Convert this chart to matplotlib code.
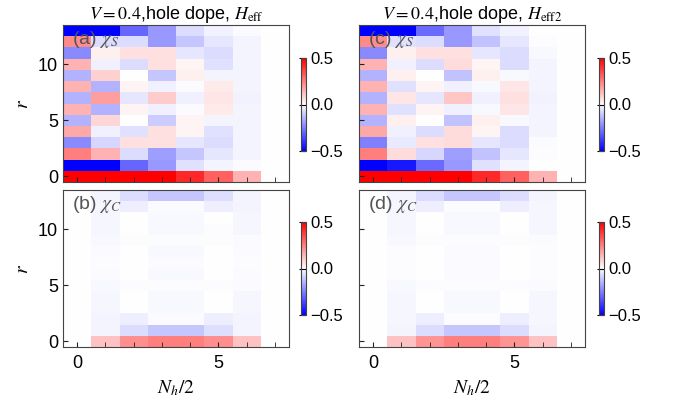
import numpy as np
import matplotlib
matplotlib.use("Agg")
import matplotlib.pyplot as plt
from matplotlib.ticker import MultipleLocator

plt.rcParams['font.family'] = ['Liberation Sans', 'DejaVu Sans']
plt.rcParams['mathtext.fontset'] = 'stix'

# x: N_h/2 = 0..7, rows: r = 0..13
nh_half = [0, 1, 2, 3, 4, 5, 6, 7]
r_vals = list(range(14))

# chi_S, H_eff  (rows r=0..13)
chi_s_eff = [
    [0.55, 0.55, 0.52, 0.50, 0.42, 0.31, 0.15, 0.0],
    [-0.55, -0.55, -0.30, -0.20, -0.06, -0.02, -0.01, 0.0],
    [0.25, 0.15, -0.07, -0.19, -0.11, -0.05, -0.02, 0.0],
    [-0.23, -0.08, 0.06, 0.06, -0.05, -0.07, -0.02, 0.0],
    [0.17, -0.03, -0.06, 0.06, 0.02, -0.06, -0.02, 0.0],
    [-0.15, 0.08, 0.0, -0.10, 0.02, -0.02, -0.02, 0.0],
    [0.15, -0.15, 0.02, -0.03, -0.01, 0.04, -0.02, 0.0],
    [-0.15, 0.19, -0.05, 0.10, -0.03, 0.05, -0.025, 0.0],
    [0.15, -0.15, 0.02, -0.03, -0.01, 0.04, -0.02, 0.0],
    [-0.15, 0.09, 0.0, -0.11, 0.03, -0.02, -0.02, 0.0],
    [0.15, -0.03, -0.07, 0.06, 0.02, -0.06, -0.02, 0.0],
    [-0.23, 0.03, 0.06, 0.06, -0.05, -0.07, -0.02, 0.0],
    [0.23, -0.07, -0.07, -0.20, -0.11, -0.05, -0.02, 0.0],
    [-0.55, -0.55, -0.30, -0.20, -0.07, -0.025, -0.01, 0.0],
]

# chi_S, H_eff2
chi_s_eff2 = [
    [0.55, 0.55, 0.52, 0.50, 0.42, 0.31, 0.15, 0.0],
    [-0.55, -0.45, -0.29, -0.20, -0.06, -0.02, 0.0, 0.0],
    [0.25, 0.07, -0.08, -0.19, -0.12, -0.05, -0.005, 0.0],
    [-0.25, -0.04, 0.06, 0.07, -0.05, -0.07, -0.01, 0.0],
    [0.17, -0.03, -0.07, 0.07, 0.02, -0.07, -0.02, 0.0],
    [-0.15, 0.03, 0.0, -0.12, 0.03, -0.015, -0.02, 0.0],
    [0.15, -0.06, 0.02, -0.03, -0.015, 0.05, -0.02, 0.0],
    [-0.15, 0.05, -0.05, 0.11, -0.03, 0.06, -0.025, 0.0],
    [0.15, -0.06, 0.02, -0.03, -0.015, 0.05, -0.02, 0.0],
    [-0.15, 0.03, 0.0, -0.12, 0.03, -0.015, -0.02, 0.0],
    [0.15, -0.03, -0.07, 0.07, 0.02, -0.07, -0.02, 0.0],
    [-0.23, 0.03, 0.06, 0.06, -0.05, -0.07, -0.015, 0.0],
    [0.23, -0.06, -0.07, -0.20, -0.12, -0.05, -0.005, 0.0],
    [-0.55, -0.55, -0.29, -0.20, -0.06, -0.025, 0.0, 0.0],
]

# chi_C, H_eff
chi_c_eff = [
    [0.0, 0.12, 0.22, 0.25, 0.25, 0.22, 0.12, 0.0],
    [0.0, -0.02, -0.07, -0.11, -0.11, -0.065, -0.02, 0.0],
    [0.0, -0.02, -0.035, -0.01, -0.01, -0.035, -0.02, 0.0],
    [0.0, -0.018, 0.0, -0.014, -0.014, 0.0, -0.018, 0.0],
    [0.0, -0.018, 0.0, -0.014, -0.014, 0.0, -0.018, 0.0],
    [0.0, -0.014, -0.006, -0.004, -0.004, -0.006, -0.01, 0.0],
    [0.0, -0.008, 0.0, -0.012, -0.012, 0.0, -0.008, 0.0],
    [0.0, -0.006, 0.0, -0.008, -0.008, 0.0, -0.006, 0.0],
    [0.0, -0.008, 0.0, -0.012, -0.012, 0.0, -0.008, 0.0],
    [0.0, -0.014, -0.006, -0.004, -0.004, -0.006, -0.01, 0.0],
    [0.0, -0.018, 0.0, -0.014, -0.014, -0.006, -0.018, 0.0],
    [0.0, -0.018, 0.0, -0.014, -0.014, 0.0, -0.018, 0.0],
    [0.0, -0.018, -0.035, -0.01, -0.01, -0.035, -0.02, 0.0],
    [0.0, -0.02, -0.07, -0.11, -0.11, -0.065, -0.02, 0.0],
]

# chi_C, H_eff2
chi_c_eff2 = [
    [0.0, 0.12, 0.21, 0.25, 0.25, 0.21, 0.12, 0.0],
    [0.0, -0.02, -0.07, -0.11, -0.11, -0.07, -0.02, 0.0],
    [0.0, -0.018, -0.035, -0.005, -0.005, -0.035, -0.018, 0.0],
    [0.0, -0.018, 0.0, -0.012, -0.012, 0.0, -0.018, 0.0],
    [0.0, -0.016, 0.0, -0.012, -0.012, 0.0, -0.016, 0.0],
    [0.0, -0.012, -0.006, -0.004, -0.004, -0.006, -0.01, 0.0],
    [0.0, -0.006, 0.0, -0.01, -0.01, 0.0, -0.006, 0.0],
    [0.0, -0.004, 0.0, -0.008, -0.008, 0.0, -0.004, 0.0],
    [0.0, -0.006, 0.0, -0.01, -0.01, 0.0, -0.006, 0.0],
    [0.0, -0.012, -0.006, -0.004, -0.004, -0.006, -0.01, 0.0],
    [0.0, -0.016, 0.0, -0.012, -0.012, 0.0, -0.016, 0.0],
    [0.0, -0.018, 0.0, -0.012, -0.012, 0.0, -0.018, 0.0],
    [0.0, -0.018, -0.035, -0.005, -0.005, -0.035, -0.018, 0.0],
    [0.0, -0.02, -0.07, -0.11, -0.11, -0.07, -0.02, 0.0],
]

titles = [r'$V=0.4$,hole dope, $H_{\rm eff}$', r'$V=0.4$,hole dope, $H_{\rm eff2}$']
panel_labels = [[r'(a) $\chi_S$', r'(b) $\chi_C$'], [r'(c) $\chi_S$', r'(d) $\chi_C$']]
data = [[chi_s_eff, chi_c_eff], [chi_s_eff2, chi_c_eff2]]

fig = plt.figure(figsize=(6.89, 4.03), dpi=100)

W, H = 689.0, 403.0
ax_left = [63, 359]
ax_top = [25, 190]
ax_w, ax_h = 226, 157
cb_left = [301, 599]
cb_top = [58, 222]
cb_w, cb_h = 5, 93

spine_col = '#444444'

for col in range(2):
    for row in range(2):
        l = ax_left[col] / W
        b = 1 - (ax_top[row] + ax_h) / H
        ax = fig.add_axes([l, b, ax_w / W, ax_h / H])
        z = np.array(data[col][row])
        im = ax.pcolormesh(np.array(nh_half), np.array(r_vals), z,
                           cmap='bwr', vmin=-0.5, vmax=0.5, shading='nearest')
        ax.set_xlim(-0.5, 7.5)
        ax.set_ylim(-0.5, 13.5)
        ax.xaxis.set_major_locator(MultipleLocator(5))
        ax.xaxis.set_minor_locator(MultipleLocator(1))
        ax.yaxis.set_major_locator(MultipleLocator(5))
        ax.tick_params(which='both', direction='in', labelsize=13, color='#222222')
        ax.tick_params(which='both', length=3.5)
        ax.tick_params(axis='x', pad=6)
        for s in ax.spines.values():
            s.set_color(spine_col)
        if row == 0:
            ax.set_xticklabels([])
            ax.set_title(titles[col], fontsize=13, pad=3)
        else:
            ax.set_xlabel(r'$N_h/2$', fontsize=14, labelpad=4)
        if col == 0:
            ax.set_ylabel(r'$r$', fontsize=14, labelpad=4)
        else:
            ax.set_yticklabels([])
        ax.text(0.04, 0.975, panel_labels[col][row], transform=ax.transAxes,
                ha='left', va='top', fontsize=14, color='#555555')

        cax = fig.add_axes([cb_left[col] / W, 1 - (cb_top[row] + cb_h) / H,
                            cb_w / W, cb_h / H])
        cb = fig.colorbar(im, cax=cax, ticks=[-0.5, 0.0, 0.5])
        cb.ax.tick_params(direction='in', length=5, labelsize=12, pad=3)
        cb.outline.set_edgecolor(spine_col)
        cb.outline.set_linewidth(0.8)

fig.savefig('out.png', dpi=100)
